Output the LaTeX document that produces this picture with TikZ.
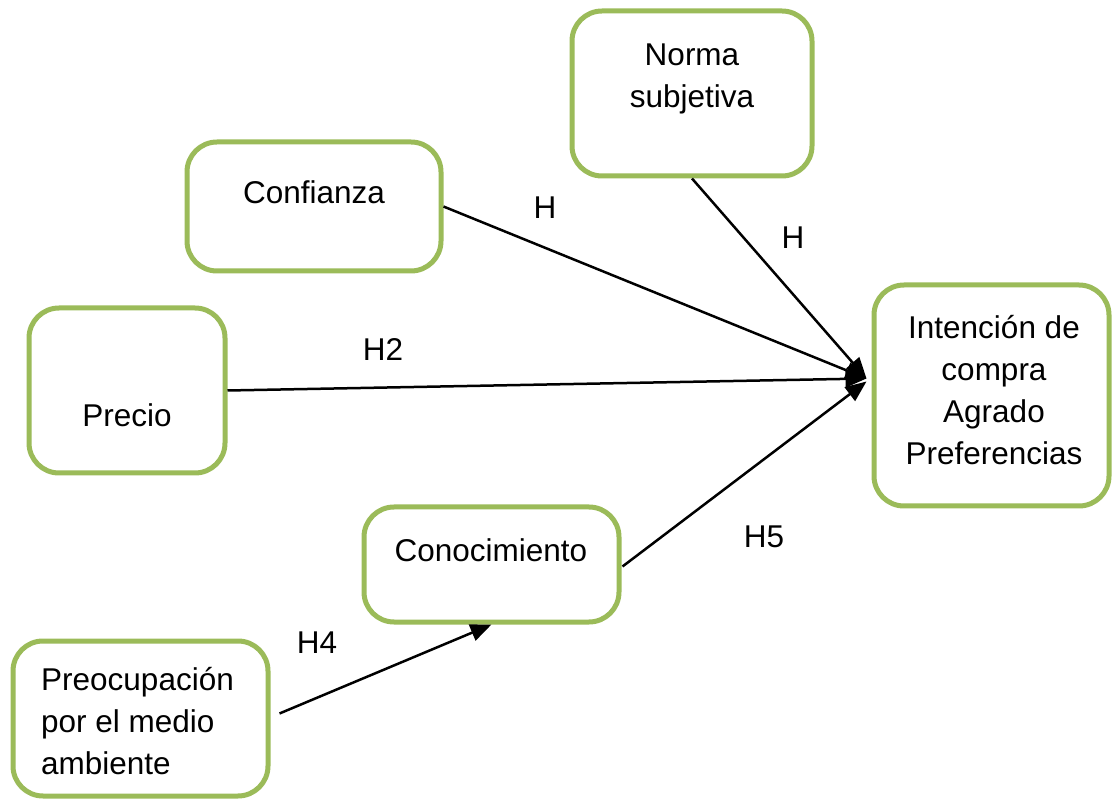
\documentclass[tikz,border=0pt]{standalone}
\usepackage{fontspec}
\setmainfont{Liberation Sans}
\usetikzlibrary{arrows.meta,calc}
\definecolor{boxgreen}{HTML}{9BBB59}
\begin{document}
\begin{tikzpicture}[x=1pt,y=-1pt,
  box/.style={draw=boxgreen,line width=5pt,rounded corners=30pt,fill=white,inner sep=0pt},
  txt/.style={inner sep=0pt,font=\fontsize{31.5}{42}\selectfont},
  conn/.style={line width=2.5pt,-{Triangle[length=21pt,width=17pt]}}]
\useasboundingbox (0,0) rectangle (1112,799);
\node[box,minimum width=240pt,minimum height=165pt] (nor) at (692,93.5) {};
\node[box,minimum width=254pt,minimum height=129pt] (con) at (314,206.5) {};
\node[box,minimum width=196pt,minimum height=165pt] (pre) at (127,390.5) {};
\node[box,minimum width=235pt,minimum height=221pt] (int) at (991.5,395.5) {};
\node[box,minimum width=255pt,minimum height=115pt] (cono) at (491.5,564.5) {};
\node[box,minimum width=255pt,minimum height=155pt] (preo) at (140.5,718.5) {};
\node[txt,align=center] (tnor) at (692,79) {Norma\\subjetiva};
\node[txt] (tcon) at (314,192) {Confianza};
\node[txt] (tpre) at (127,415) {Precio};
\node[txt,align=center] (tint) at (994,390) {Intención de\\compra\\Agrado\\Preferencias};
\node[txt] (tcono) at (491,550) {Conocimiento};
\node[txt,align=left,anchor=west] (tpreo) at (41,721.5) {Preocupación\\por el medio\\ambiente};
\coordinate (tip) at ($(int.west)+(-5,-17)$);
\draw[conn] (con.east) -- (tip);
\draw[conn] (nor.south) -- (tip);
\draw[conn] (pre.east) -- (tip);
\draw[conn] ([shift={(1,2)}]cono.east) -- ($(tip)+(0,3)$);
\draw[conn] ([shift={(9,-5)}]preo.east) -- (cono.south);
\node[txt] (h1) at (545,208) {H};
\node[txt] (h3) at (793,238) {H};
\node[txt] (h2) at (383,350) {H2};
\node[txt] (h5) at (764,537) {H5};
\node[txt] (h4) at (317,643) {H4};
\end{tikzpicture}
\end{document}
